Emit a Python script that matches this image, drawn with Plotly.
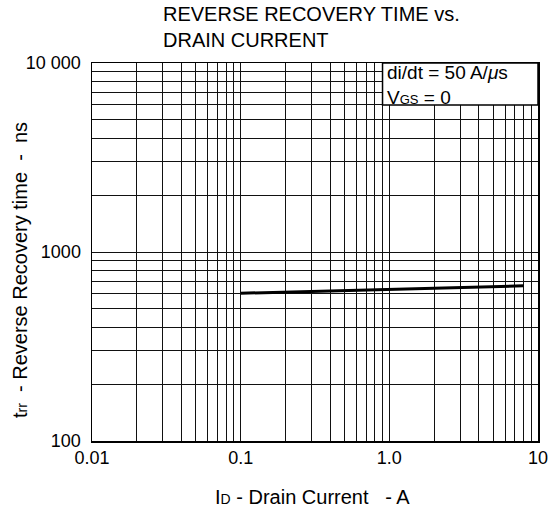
import plotly.graph_objects as go
import numpy as np

# Data
current_A = [0.1, 8.0]
trr_ns = [605, 662]

x_tick_vals = [0.01, 0.1, 1, 10]
x_tick_text = ["0.01", "0.1", "1.0", "10"]
y_tick_vals = [100, 1000, 10000]
y_tick_text = ["100", "1000", "10 000"]

title_lines = ["REVERSE RECOVERY TIME vs.", "DRAIN CURRENT"]
cond_lines = ["di/dt = 50 A/<i>μ</i>s", "V<span style='font-size:13px'>GS</span> = 0"]
x_title = "I<span style='font-size:14px'>D</span> - Drain Current   - A"
y_title = "t<span style='font-size:14px'>rr</span>  - Reverse Recovery time  -  ns"

FONT = "Liberation Sans, Arial, sans-serif"

W, H = 555, 518
L, R, T, B = 92, 17, 63, 77
PW, PH = W - L - R, H - T - B

def px_x(px):
    return (px - L) / PW

def px_y(py):
    return (H - B - py) / PH

def grid_vals(lo_exp, hi_exp):
    vals = []
    for e in range(lo_exp, hi_exp):
        for m in range(1, 10):
            vals.append(m * 10 ** e)
    vals.append(10 ** hi_exp)
    return vals

xg = grid_vals(-2, 1)
yg = grid_vals(2, 4)
xg_text = [x_tick_text[x_tick_vals.index(v)] if v in x_tick_vals else "" for v in xg]
yg_text = [y_tick_text[y_tick_vals.index(v)] if v in y_tick_vals else "" for v in yg]

fig = go.Figure()
fig.add_trace(go.Scatter(x=current_A, y=trr_ns, mode="lines",
                         line=dict(color="black", width=3), showlegend=False,
                         hoverinfo="skip"))

axis_common = dict(type="log", showline=True, linecolor="black", linewidth=1.5,
                   mirror=True, showgrid=True, gridcolor="#111", gridwidth=1,
                   ticks="", zeroline=False, automargin=False, fixedrange=True,
                   tickfont=dict(family=FONT, size=18, color="black"))

fig.update_xaxes(range=[-2, 1], tickvals=xg, ticktext=xg_text, ticklabelstandoff=0,
                 **axis_common)
fig.update_yaxes(range=[2, 4], tickvals=yg, ticktext=yg_text, ticklabelstandoff=6,
                 **axis_common)

# condition box, bounded by the 0.9 A and 6000 ns grid lines
box_x0 = (np.log10(0.9) + 2) / 3
box_y0 = (np.log10(6000) - 2) / 2
fig.add_shape(type="rect", xref="paper", yref="paper",
              x0=box_x0, x1=1, y0=box_y0, y1=1,
              fillcolor="white", line=dict(color="black", width=1.5), layer="above")

def text_ann(text, x, y, size, xanchor="left", angle=0):
    fig.add_annotation(xref="paper", yref="paper", x=x, y=y, xanchor=xanchor,
                       yanchor="middle", align="left", showarrow=False, text=text,
                       textangle=angle, borderpad=0,
                       font=dict(family=FONT, size=size, color="black"))

text_ann("<br>".join(cond_lines), px_x(386), px_y(84.5), 19)
text_ann("<br>".join(title_lines), px_x(162), px_y(27), 20)

text_ann(x_title, px_x(312), px_y(497), 20, xanchor="center")
text_ann(y_title, px_x(20), px_y(270), 20, xanchor="center", angle=-90)

fig.update_layout(width=W, height=H, margin=dict(l=L, r=R, t=T, b=B),
                  paper_bgcolor="white", plot_bgcolor="white")

fig.write_html("out.html", config={"displayModeBar": False, "staticPlot": True},
               post_script="document.body.style.margin='0';")
